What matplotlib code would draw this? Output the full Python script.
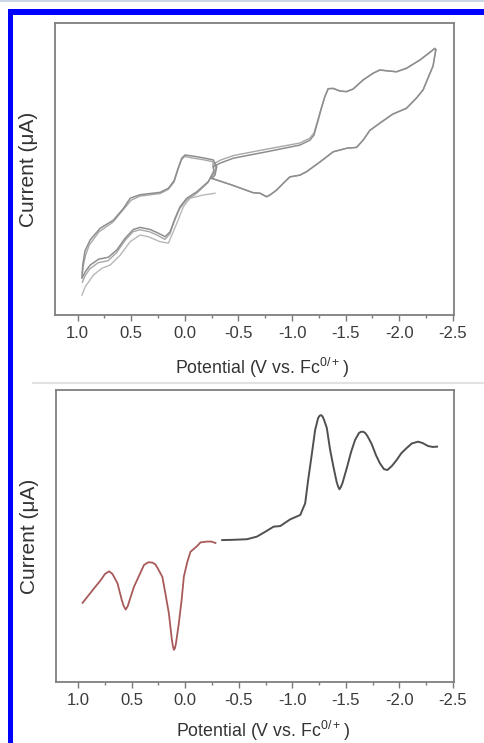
import matplotlib
matplotlib.use('Agg')
import matplotlib.pyplot as plt
from matplotlib.patches import Rectangle
from matplotlib.lines import Line2D
from matplotlib.ticker import MultipleLocator, NullLocator

plt.rcParams['font.family'] = ['Liberation Sans', 'DejaVu Sans']
plt.rcParams['axes.unicode_minus'] = False

# ---------------- CV data (top panel), potential in V, current in arb. units ----------------
# initial scan from rest potential toward +1.0 V
cv_init_V = [-0.282, -0.173, -0.049, 0.013, 0.074, 0.153, 0.230, 0.339, 0.416, 0.509, 0.602, 0.696, 0.773, 0.851, 0.928, 0.959]
cv_init_I = [41.7, 41.1, 40.0, 37.1, 31.4, 24.6, 25.1, 26.8, 27.4, 25.1, 20.5, 17.1, 16.0, 13.7, 9.7, 6.8]

# cycle 1
cv1_ul_V = [0.959, 0.950, 0.930, 0.882, 0.789, 0.665, 0.572, 0.509, 0.416, 0.230, 0.153, 0.100, 0.060, 0.028, -0.002, -0.080, -0.173, -0.266, -0.298, -0.282, -0.251]
cv1_ul_I = [13.1, 17.5, 22.0, 25.7, 29.7, 32.5, 36.5, 40.0, 41.2, 42.0, 43.4, 46.0, 50.5, 53.7, 54.8, 54.4, 53.8, 53.1, 50.8, 48.0, 46.8]
cv_lr_V = [-0.251, -0.440, -0.636, -0.701, -0.763, -0.794, -0.857, -0.918, -0.980, -1.074, -1.136, -1.260, -1.384, -1.509, -1.601, -1.663, -1.725, -1.818, -1.939, -2.067, -2.160, -2.222, -2.268, -2.315, -2.340]
cv_lr_I = [46.8, 44.5, 41.9, 41.7, 40.5, 41.1, 42.8, 45.1, 47.3, 47.9, 49.1, 52.4, 55.9, 57.1, 57.4, 59.9, 63.2, 65.7, 68.8, 70.8, 74.3, 77.1, 81.2, 85.3, 90.8]
cv1_ur_V = [-2.340, -2.331, -2.266, -2.191, -2.067, -1.974, -1.893, -1.818, -1.756, -1.663, -1.570, -1.509, -1.446, -1.384, -1.337, -1.306, -1.269, -1.244, -1.204, -1.167, -1.074, -0.763, -0.453, -0.329, -0.266]
cv1_ur_I = [90.8, 91.3, 89.4, 87.3, 84.5, 83.3, 83.6, 83.9, 82.8, 80.5, 77.4, 76.5, 76.7, 77.6, 77.5, 74.8, 70.2, 66.8, 61.6, 59.9, 58.2, 55.9, 53.7, 52.0, 50.8]
cv1_ll_V = [-0.266, -0.273, -0.220, -0.112, -0.019, 0.044, 0.091, 0.137, 0.183, 0.246, 0.323, 0.416, 0.479, 0.556, 0.633, 0.711, 0.804, 0.882, 0.928, 0.959]
cv1_ll_I = [50.8, 49.0, 45.7, 42.2, 40.0, 37.1, 33.1, 28.5, 26.8, 28.0, 29.3, 30.0, 29.3, 26.3, 22.3, 19.8, 19.1, 17.1, 14.8, 12.6]

# cycle 2 (nearly overlapping repeat)
cv2_ul_V = [0.955, 0.945, 0.925, 0.890, 0.800, 0.670, 0.575, 0.500, 0.420, 0.230, 0.155, 0.100, 0.062, 0.030, 0.000, -0.080, -0.170, -0.260, -0.290, -0.278, -0.251]
cv2_ul_I = [14.5, 17.0, 20.5, 24.0, 28.5, 31.8, 36.0, 39.3, 40.7, 41.6, 43.0, 45.5, 50.0, 53.2, 54.3, 53.7, 53.2, 52.5, 50.5, 47.8, 46.8]
cv2_ur_V = [-2.340, -2.331, -2.266, -2.191, -2.067, -1.974, -1.893, -1.818, -1.756, -1.663, -1.570, -1.509, -1.446, -1.384, -1.337, -1.306, -1.269, -1.244, -1.204, -1.167, -1.074, -0.763, -0.453, -0.329, -0.262]
cv2_ur_I = [90.8, 91.3, 89.4, 87.3, 84.5, 83.3, 83.6, 83.9, 82.8, 80.5, 77.4, 76.5, 76.7, 77.6, 77.5, 74.8, 70.4, 67.2, 62.3, 60.6, 58.9, 56.8, 54.6, 53.0, 51.6]
cv2_ll_V = [-0.262, -0.270, -0.215, -0.108, -0.015, 0.048, 0.095, 0.140, 0.186, 0.250, 0.327, 0.420, 0.483, 0.560, 0.637, 0.715, 0.808, 0.886, 0.930, 0.955]
cv2_ll_I = [51.6, 49.5, 45.3, 41.6, 39.3, 36.4, 32.3, 27.7, 25.9, 27.2, 28.5, 29.2, 28.5, 25.4, 21.3, 18.6, 17.9, 15.8, 13.4, 11.2]

# ---------------- DPV data (bottom panel) ----------------
dpv_ox_V = [0.959, 0.851, 0.789, 0.750, 0.711, 0.680, 0.633, 0.593, 0.575, 0.556, 0.537, 0.519, 0.479, 0.385, 0.345, 0.307, 0.280, 0.258, 0.214, 0.183, 0.153, 0.128, 0.117, 0.106, 0.096, 0.086, 0.060, 0.034, 0.013, -0.019, -0.049, -0.112, -0.142, -0.205, -0.245, -0.282]
dpv_ox_I = [27.1, 32.1, 34.9, 37.0, 37.9, 37.0, 33.8, 28.1, 26.0, 24.8, 26.0, 28.1, 32.6, 40.1, 41.0, 40.9, 40.3, 39.0, 36.0, 29.8, 23.5, 15.4, 12.5, 11.0, 11.6, 13.4, 20.1, 28.1, 36.1, 41.1, 44.6, 46.6, 47.8, 48.1, 48.1, 47.6]
dpv_red_V = [-0.345, -0.450, -0.577, -0.670, -0.763, -0.825, -0.887, -0.980, -1.074, -1.120, -1.148, -1.183, -1.213, -1.241, -1.255, -1.269, -1.283, -1.297, -1.322, -1.353, -1.384, -1.414, -1.427, -1.440, -1.454, -1.469, -1.509, -1.549, -1.586, -1.623, -1.643, -1.663, -1.683, -1.702, -1.741, -1.781, -1.818, -1.856, -1.888, -1.930, -1.974, -2.019, -2.067, -2.116, -2.175, -2.219, -2.268, -2.312, -2.352]
dpv_red_I = [48.6, 48.7, 48.9, 49.8, 51.8, 53.2, 53.4, 55.7, 57.2, 61.2, 69.2, 78.3, 86.3, 90.4, 91.2, 91.4, 90.9, 89.7, 87.0, 79.5, 73.7, 68.5, 67.0, 66.0, 66.8, 68.2, 73.3, 78.8, 82.9, 85.3, 85.7, 85.7, 85.2, 84.2, 81.5, 77.7, 74.9, 72.9, 72.6, 74.0, 76.0, 78.4, 80.1, 81.7, 82.3, 81.8, 80.8, 80.5, 80.6]

x_ticks = [1.0, 0.5, 0.0, -0.5, -1.0, -1.5, -2.0, -2.5]
x_label = r'Potential (V vs. Fc$^{\mathregular{0/+}}$)'
y_label = 'Current (μA)'

W, H = 484, 743
fig = plt.figure(figsize=(W / 100, H / 100), dpi=100)
fig.patch.set_facecolor('white')

ax1 = fig.add_axes([55 / W, 1 - 315 / H, 399 / W, 292 / H])
ax2 = fig.add_axes([55.7 / W, 1 - 682 / H, 398.3 / W, 292 / H])

for ax, xlab_y in ((ax1, -0.140), (ax2, -0.125)):
    ax.set_xlim(1.21, -2.51)
    ax.set_ylim(0, 100)
    ax.set_xticks(x_ticks)
    ax.set_xticklabels([f'{t:.1f}' for t in x_ticks])
    ax.xaxis.set_minor_locator(MultipleLocator(0.25))
    ax.yaxis.set_major_locator(NullLocator())
    ax.tick_params(axis='x', which='major', direction='out', length=4, width=1.0,
                   color='#7a7a7a', labelsize=12, pad=4, labelcolor='#3a3a3a')
    ax.tick_params(axis='x', which='minor', direction='out', length=2.5, width=1.0, color='#7a7a7a')
    for s in ax.spines.values():
        s.set_color('#7f7f7f')
        s.set_linewidth(1.3)
    ax.set_xlabel(x_label, fontsize=12.8, color='#333333')
    ax.xaxis.set_label_coords(0.52, xlab_y)
    ax.set_ylabel(y_label, fontsize=15, color='#333333', labelpad=12)

# top panel: CV traces
c_init = '#b8b8b8'
c1 = '#8e8e8e'
c2 = '#a8a8a8'
ax1.plot(cv_init_V, cv_init_I, color=c_init, lw=1.0)
for V, I in ((cv2_ul_V, cv2_ul_I), (cv_lr_V, cv_lr_I), (cv2_ur_V, cv2_ur_I), (cv2_ll_V, cv2_ll_I)):
    ax1.plot(V, I, color=c2, lw=1.0, solid_joinstyle='round')
for V, I in ((cv1_ul_V, cv1_ul_I), (cv_lr_V, cv_lr_I), (cv1_ur_V, cv1_ur_I), (cv1_ll_V, cv1_ll_I)):
    ax1.plot(V, I, color=c1, lw=1.1, solid_joinstyle='round')

# bottom panel: DPV traces
ax2.plot(dpv_ox_V, dpv_ox_I, color='#a85a5a', lw=1.3, solid_joinstyle='round')
ax2.plot(dpv_red_V, dpv_red_I, color='#505050', lw=1.4, solid_joinstyle='round')

# page decorations: blue frame and separator
fig.add_artist(Rectangle((8 / W, 0), 5 / W, 1 - 9 / H, transform=fig.transFigure,
                         facecolor='#0000ff', edgecolor='none'))
fig.add_artist(Rectangle((8 / W, 1 - 15 / H), 1 - 8 / W, 6 / H, transform=fig.transFigure,
                         facecolor='#0000ff', edgecolor='none'))
fig.add_artist(Rectangle((0, 1 - 1.5 / H), 1, 1.5 / H, transform=fig.transFigure,
                         facecolor='#c8d6e6', edgecolor='none'))
fig.add_artist(Line2D([33 / W, 1], [1 - 383 / H, 1 - 383 / H], transform=fig.transFigure,
                      color='#e2e2e2', lw=1.5))

fig.savefig('out.png', dpi=100)
